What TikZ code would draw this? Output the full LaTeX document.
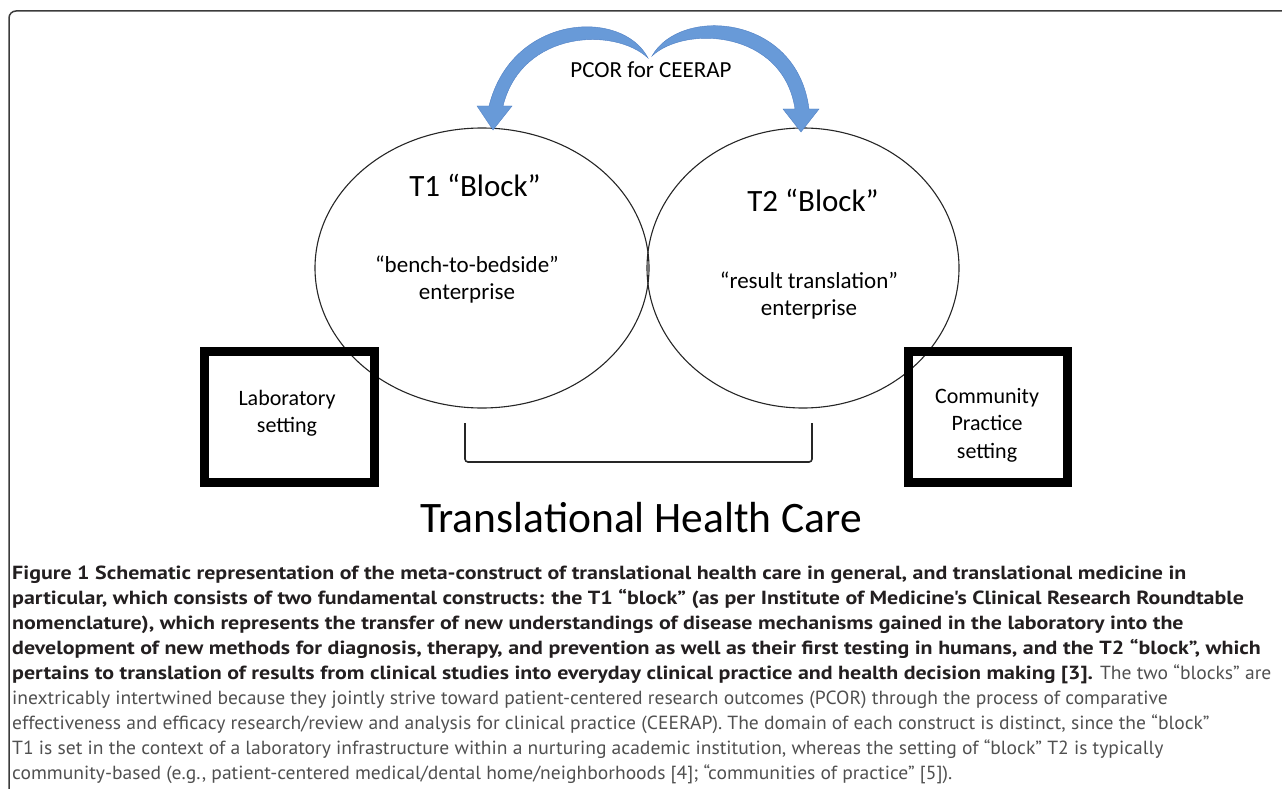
\documentclass[tikz,border=0pt]{standalone}
\usepackage{fontspec}
\setmainfont{Carlito}
\newfontfamily\capreg[FakeStretch=1.03]{PT Sans}
\newfontfamily\capbf[FakeStretch=1.155]{PT Sans}
\usetikzlibrary{shapes.geometric}
\definecolor{arrowblue}{RGB}{104,154,216}
\definecolor{arrowedge}{RGB}{80,128,196}
\definecolor{framegray}{RGB}{60,60,60}
\definecolor{capbold}{RGB}{35,31,32}
\definecolor{capnorm}{RGB}{80,80,80}
\tikzset{
  blob/.style={ellipse, draw=black!85, line width=1.1pt, inner sep=0pt},
  setbox/.style={draw=black, line width=9pt, inner sep=0pt},
  lbl/.style={font=\fontsize{23}{27}\selectfont, align=center, inner sep=0pt},
  boxlbl/.style={font=\fontsize{22}{27.5}\selectfont, align=center, inner sep=0pt},
  blocklbl/.style={font=\fontsize{31}{36}\selectfont, anchor=base, inner sep=0pt},
  bluearrow/.style={fill=arrowblue, draw=arrowedge, line width=0.4pt},
  bracket/.style={draw=black!85, line width=1.6pt, rounded corners=3pt},
}
\newcommand\bl{\color{capbold}\capbf\bfseries}
\newcommand\nl{\color{capnorm}\capreg\mdseries}
\begin{document}
\begin{tikzpicture}[x=1pt,y=-1pt]
\useasboundingbox (0,0) rectangle (1282,789);
% frame
\draw[framegray, line width=1.5pt, rounded corners=7pt] (9,789) -- (9,11) -- (1282,11);

% ellipses
\node[blob, minimum width=334pt, minimum height=280pt] (t1) at (482,268) {};
\node[blob, minimum width=312pt, minimum height=280pt] (t2) at (803,268) {};

% boxes
\node[setbox, minimum width=170pt, minimum height=131pt] (lab) at (289,416.5) {};
\node[setbox, minimum width=159pt, minimum height=131pt] (comm) at (987.5,416.5) {};

% arrows
\draw[bluearrow] (648,58) .. controls (622,8) and (512,14) .. (489,106)
   -- (477,106) -- (493,130) -- (512,106) -- (503,106)
   .. controls (522,30) and (615,27) .. (648,58) -- cycle;
\draw[bluearrow] (652,56) .. controls (680,6) and (797,14) .. (809,109)
   -- (819,109) -- (801,132) -- (783,109) -- (795,109)
   .. controls (783,30) and (685,25) .. (652,56) -- cycle;
\node[lbl, anchor=base] (pcor) at (651,78) {PCOR for CEERAP};

% labels
\node[blocklbl] (t1title) at (475,196) {T1 “Block”};
\node[blocklbl] (t2title) at (813,211) {T2 “Block”};
\node[lbl] (t1text) at (467,280) {“bench-to-bedside”\\enterprise};
\node[lbl] (t2text) at (809,296) {“result translation”\\enterprise};
\node[boxlbl] (labtext) at (287,413) {Laboratory\\setting};
\node[boxlbl] (commtext) at (987,425) {Community\\Practice\\setting};

% bracket
\coordinate (b1) at (465,423);
\coordinate (b2) at (812,423);
\draw[bracket] (b1) -- (465,462) -- (812,462) -- (b2);

\node[font=\fontsize{43.5}{50}\selectfont, anchor=base, inner sep=0pt] (title) at (641,532) {Translational Health Care};

% caption (anchor base = last line's baseline)
\node[anchor=base west, inner sep=0pt, align=left, font=\fontsize{19}{24.9}\selectfont] (caption) at (12,779) {%
\bl Figure 1 Schematic representation of the meta-construct of translational health care in general, and translational medicine in\\
\bl particular, which consists of two fundamental constructs: the T1 “block” (as per Institute of Medicine's Clinical Research Roundtable\\
\bl nomenclature), which represents the transfer of new understandings of disease mechanisms gained in the laboratory into the\\
\bl development of new methods for diagnosis, therapy, and prevention as well as their first testing in humans, and the T2 “block”, which\\
\bl pertains to translation of results from clinical studies into everyday clinical practice and health decision making [3].\nl{} The two “blocks” are\\
\nl inextricably intertwined because they jointly strive toward patient-centered research outcomes (PCOR) through the process of comparative\\
\nl effectiveness and efficacy research/review and analysis for clinical practice (CEERAP). The domain of each construct is distinct, since the “block”\\
\nl T1 is set in the context of a laboratory infrastructure within a nurturing academic institution, whereas the setting of “block” T2 is typically\\
\nl community-based (e.g., patient-centered medical/dental home/neighborhoods [4]; “communities of practice” [5]).};
\end{tikzpicture}
\end{document}
